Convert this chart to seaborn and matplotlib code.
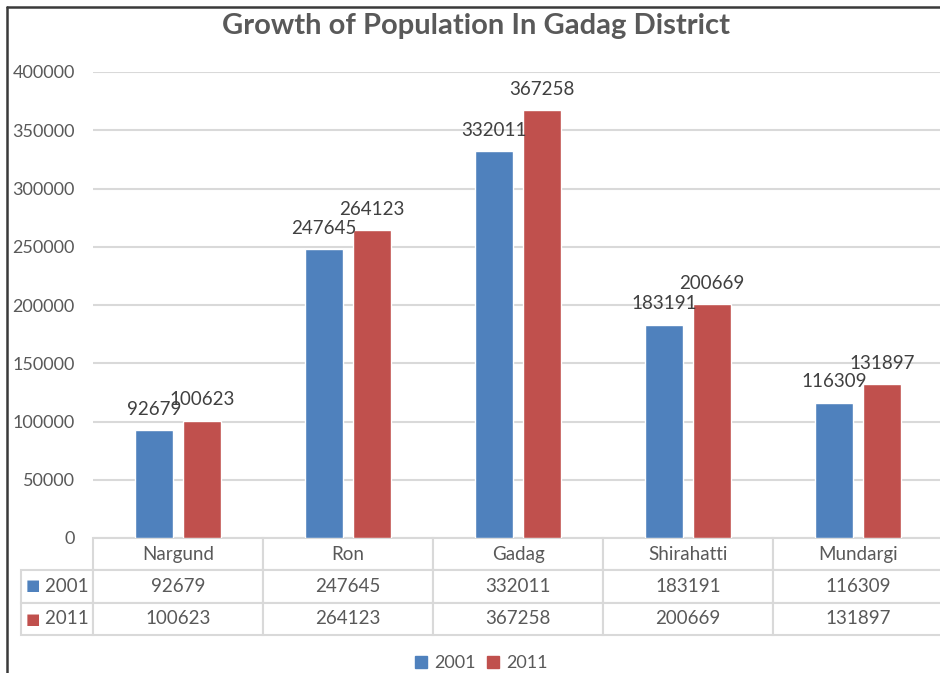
import numpy as np
import pandas as pd
import matplotlib
matplotlib.use("Agg")
import matplotlib.pyplot as plt
from matplotlib.lines import Line2D
import seaborn as sns

# data
districts = ["Nargund", "Ron", "Gadag", "Shirahatti", "Mundargi"]
years = ["2001", "2011"]
pop_2001 = [92679, 247645, 332011, 183191, 116309]
pop_2011 = [100623, 264123, 367258, 200669, 131897]
y_ticks = [0, 50000, 100000, 150000, 200000, 250000, 300000, 350000, 400000]

BLUE = "#4F81BD"
RED = "#C0504D"
TXT = "#595959"
GRID = "#D9D9D9"

sns.set_theme(style="white")
plt.rcParams["font.family"] = ["Lato", "DejaVu Sans"]

df = pd.DataFrame({
    "district": districts * 2,
    "year": [years[0]] * 5 + [years[1]] * 5,
    "pop": pop_2001 + pop_2011,
})

W, H = 940, 673
fig = plt.figure(figsize=(W / 100, H / 100), dpi=100)
# plot area in pixels: x 93..943, y 72..538
ax = fig.add_axes([93 / W, (H - 538) / H, 850 / W, 466 / H])

sns.barplot(data=df, x="district", y="pop", hue="year", order=districts,
            hue_order=years, palette=[BLUE, RED], width=0.565, gap=0.21,
            saturation=1, ax=ax, legend=True)

ax.set_xlim(-0.5, 4.5)
ax.set_ylim(0, 400000)
ax.set_yticks(y_ticks)
ax.set_yticklabels([str(v) for v in y_ticks])
ax.tick_params(axis="y", length=0, pad=13, labelsize=13, labelcolor=TXT)
ax.set_xticks([])
ax.set_xlabel("")
ax.set_ylabel("")
for s in ax.spines.values():
    s.set_visible(False)
ax.yaxis.grid(True, color=GRID, linewidth=1.5)
ax.set_axisbelow(True)

for cont in ax.containers:
    ax.bar_label(cont, fmt="%d", fontsize=13.5, color="#404040", padding=9)

# data table under the plot
cell_text = [[""] + districts,
             ["    " + years[0]] + [str(v) for v in pop_2001],
             ["    " + years[1]] + [str(v) for v in pop_2011]]
col_w = [72] + [170] * 5
tot = sum(col_w)
left = -72 / 850
tbl = ax.table(cellText=cell_text, colWidths=[c / tot for c in col_w],
               cellLoc="center", bbox=[left, -97 / 466, tot / 850, 97 / 466])
tbl.auto_set_font_size(False)
for (r, c), cell in tbl.get_celld().items():
    cell.set_edgecolor(GRID)
    cell.set_linewidth(1.5)
    cell.get_text().set_fontsize(13.5)
    cell.get_text().set_color(TXT)
    if r == 0 and c == 0:
        cell.visible_edges = "BR"
        cell.set_edgecolor("white")

# coloured keys in the table row labels
for i, col in enumerate([BLUE, RED]):
    yc = 1 - (586 + 33 * i) / H
    fig.text(33 / W, yc, "\u25A0", color=col, fontsize=11, ha="center",
             va="center", family="DejaVu Sans")

# bottom legend
handles = [Line2D([], [], marker="s", linestyle="", markersize=9,
                  markerfacecolor=c, markeredgecolor=c) for c in [BLUE, RED]]
ax.legend(handles, years, loc="center", bbox_to_anchor=(481 / W, 1 - 663 / H),
          bbox_transform=fig.transFigure, ncol=2, frameon=False, fontsize=13,
          labelcolor=TXT, handlelength=0.7, handletextpad=0.4,
          columnspacing=0.6, borderpad=0)

fig.text(476 / W, 1 - 26 / H, "Growth of Population In Gadag District",
         ha="center", va="center", fontsize=21, fontweight="bold", color=TXT)

# outer chart frame (top and left visible in the screenshot)
fig.add_artist(Line2D([7 / W, 7 / W], [0, 1 - 7 / H], color="#3A3A3A",
                      linewidth=1.8, transform=fig.transFigure))
fig.add_artist(Line2D([7 / W, 1], [1 - 7 / H, 1 - 7 / H], color="#3A3A3A",
                      linewidth=1.8, transform=fig.transFigure))

fig.savefig("out.png", dpi=100, facecolor="white")
